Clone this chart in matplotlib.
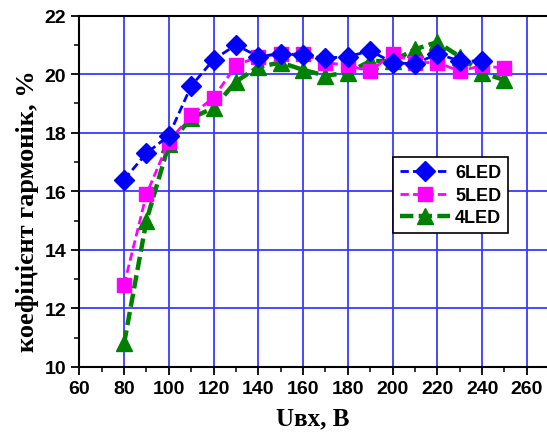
import matplotlib
matplotlib.use('Agg')
import matplotlib.pyplot as plt
from matplotlib.ticker import MultipleLocator

# input voltage, V
u_6led = [80, 90, 100, 110, 120, 130, 140, 150, 160, 170, 180, 190, 200, 210, 220, 230, 240]
thd_6led = [16.4, 17.3, 17.9, 19.6, 20.5, 21.0, 20.6, 20.7, 20.65, 20.55, 20.6, 20.8, 20.4, 20.35, 20.7, 20.45, 20.45]

u_5led = [80, 90, 100, 110, 120, 130, 140, 150, 160, 170, 180, 190, 200, 210, 220, 230, 240, 250]
thd_5led = [12.8, 15.9, 17.7, 18.6, 19.2, 20.3, 20.6, 20.7, 20.7, 20.4, 20.3, 20.1, 20.7, 20.4, 20.4, 20.1, 20.3, 20.2]

u_4led = [80, 90, 100, 110, 120, 130, 140, 150, 160, 170, 180, 190, 200, 210, 220, 230, 240, 250]
thd_4led = [10.8, 15.0, 17.6, 18.5, 18.85, 19.75, 20.25, 20.4, 20.15, 19.95, 20.05, 20.45, 20.45, 20.85, 21.1, 20.6, 20.05, 19.8]

fig = plt.figure(figsize=(5.47, 4.39), dpi=100)
ax = fig.add_axes([0.145, 0.162, 0.855, 0.800])

ax.grid(True, which='major', color='#3a3aff', linewidth=1.3)
ax.set_axisbelow(True)

ax.plot(u_6led, thd_6led, color='#0000ff', linestyle=(0, (3, 1.5)), linewidth=2,
        marker='D', markersize=10, label='6LED', zorder=5)
ax.plot(u_5led, thd_5led, color='#ff00ff', linestyle=(0, (3, 1.5)), linewidth=2,
        marker='s', markersize=9.5, label='5LED', zorder=4)
ax.plot(u_4led, thd_4led, color='#008000', linestyle=(0, (3, 1.2)), linewidth=3.2,
        marker='^', markersize=11, label='4LED', zorder=3)

ax.set_xlim(60, 269)
ax.set_ylim(10, 22)
ax.xaxis.set_major_locator(MultipleLocator(20))
ax.xaxis.set_minor_locator(MultipleLocator(10))
ax.yaxis.set_major_locator(MultipleLocator(2))
ax.yaxis.set_minor_locator(MultipleLocator(1))
ax.tick_params(which='major', direction='out', length=6, width=1.3)
ax.tick_params(which='minor', direction='out', length=3.5, width=1.1)
ax.tick_params(top=False, right=False)
for lbl in ax.get_xticklabels() + ax.get_yticklabels():
    lbl.set_fontfamily('Liberation Sans')
    lbl.set_fontweight('bold')
    lbl.set_fontsize(14)
for s in ax.spines.values():
    s.set_linewidth(1.5)
ax.spines['right'].set_visible(False)

ax.set_xlabel('Uвх, В', fontfamily='Liberation Serif', fontweight='bold', fontsize=18, labelpad=7)
ax.set_ylabel('коефіцієнт гармонік, %', fontfamily='Liberation Serif', fontweight='bold',
              fontsize=19, labelpad=4)
ax.yaxis.label.set_y(0.445)

leg = ax.legend(loc='upper left', bbox_to_anchor=(0.670, 0.597), borderaxespad=0,
                frameon=True, fancybox=False, edgecolor='black', framealpha=1,
                handlelength=2.8, borderpad=0.4, labelspacing=0.3, handletextpad=0.25,
                prop={'family': 'Liberation Sans', 'weight': 'bold', 'size': 13})
leg.get_frame().set_linewidth(1.2)

plt.savefig('out.png', dpi=100)
